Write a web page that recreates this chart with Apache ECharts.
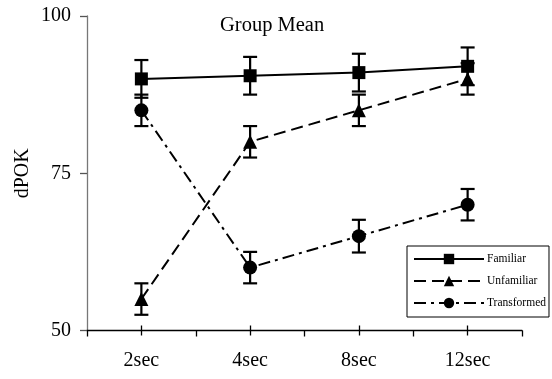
<!DOCTYPE html>
<html>
<head>
<meta charset="utf-8">
<script src="https://cdn.jsdelivr.net/npm/echarts@6/dist/echarts.min.js"></script>
<style>html,body{margin:0;padding:0;background:#fff;}#c{width:552px;height:379px;}</style>
</head>
<body>
<div id="c"></div>
<script>
var categories = ['2sec', '4sec', '8sec', '12sec'];
var seriesNames = ['Familiar', 'Unfamiliar', 'Transformed'];
var familiar = [90, 90.5, 91, 92];
var familiarErr = [3, 3, 3, 3];
var unfamiliar = [55, 80, 85, 90];
var unfamiliarErr = [2.5, 2.5, 2.5, 2.5];
var transformed = [85, 60, 65, 70];
var transformedErr = [2.5, 2.5, 2.6, 2.5];
var yTicks = [50, 75, 100];
var titleText = 'Group Mean';
var yName = 'dPOK';

var FONT = '"Liberation Serif", "Times New Roman", serif';

function errData(vals, errs) {
  return vals.map(function (v, i) { return [i, v - errs[i], v + errs[i]]; });
}
function errSeries(vals, errs) {
  return {
    type: 'custom',
    z: 1,
    silent: true,
    data: errData(vals, errs),
    encode: { x: 0, y: [1, 2] },
    renderItem: function (params, api) {
      var x = api.value(0);
      var lo = api.coord([x, api.value(1)]);
      var hi = api.coord([x, api.value(2)]);
      var w = 7;
      var st = { stroke: '#000', lineWidth: 2.2 };
      return {
        type: 'group',
        children: [
          { type: 'line', shape: { x1: lo[0], y1: lo[1], x2: hi[0], y2: hi[1] }, style: st },
          { type: 'line', shape: { x1: lo[0] - w, y1: lo[1], x2: lo[0] + w, y2: lo[1] }, style: st },
          { type: 'line', shape: { x1: hi[0] - w, y1: hi[1], x2: hi[0] + w, y2: hi[1] }, style: st }
        ]
      };
    }
  };
}

var chart = echarts.init(document.getElementById('c'), null, { renderer: 'canvas' });
var option = {
  backgroundColor: '#fff',
  animation: false,
  textStyle: { fontFamily: FONT, color: '#000' },
  title: {
    text: titleText,
    left: 220, top: 15, padding: 0,
    textStyle: { fontFamily: FONT, fontSize: 20.5, fontWeight: 'normal', color: '#000' }
  },
  legend: {
    data: seriesNames,
    orient: 'vertical',
    left: 407, top: 246,
    itemWidth: 70, itemHeight: 13, itemGap: 10,
    padding: [7, 3, 8, 6],
    borderColor: '#000', borderWidth: 1, backgroundColor: '#fff',
    textStyle: { fontFamily: FONT, fontSize: 11.5, color: '#000', padding: [0, 0, 0, -2] }
  },
  grid: { left: 87, right: 30, top: 16, bottom: 48.5, containLabel: false },
  xAxis: [{
    type: 'category',
    data: categories,
    boundaryGap: true,
    axisLine: { show: true, lineStyle: { color: '#000', width: 1.3 } },
    axisTick: { show: true, interval: 0, length: 6, lineStyle: { color: '#000', width: 1.3 } },
    axisLabel: { fontFamily: FONT, fontSize: 20, color: '#000', margin: 20, interval: 0 }
  }, {
    type: 'category',
    data: categories,
    position: 'bottom',
    offset: -5,
    boundaryGap: true,
    axisLine: { show: false },
    axisTick: { show: true, interval: 0, alignWithLabel: true, length: 10, lineStyle: { color: '#000', width: 1.3 } },
    axisLabel: { show: false }
  }],
  yAxis: {
    type: 'value',
    min: yTicks[0], max: yTicks[yTicks.length - 1], interval: 25,
    name: yName,
    nameLocation: 'middle',
    nameGap: 54,
    nameMoveOverlap: false,
    nameRotate: 90,
    nameTextStyle: { fontFamily: FONT, fontSize: 20, color: '#000' },
    axisLine: { show: true, lineStyle: { color: '#777', width: 1.3 } },
    axisTick: { show: true, length: 7, lineStyle: { color: '#555', width: 1.3 } },
    axisLabel: { fontFamily: FONT, fontSize: 20, color: '#000', margin: 16 },
    splitLine: { show: false }
  },
  series: [
    {
      name: seriesNames[0], type: 'line', z: 3, data: familiar,
      symbol: 'rect', symbolSize: 13,
      itemStyle: { color: '#000' },
      lineStyle: { color: '#000', width: 2, type: 'solid' }
    },
    {
      name: seriesNames[1], type: 'line', z: 3, data: unfamiliar,
      symbol: 'triangle', symbolSize: 14,
      itemStyle: { color: '#000' },
      lineStyle: { color: '#000', width: 2, type: [12, 6] }
    },
    {
      name: seriesNames[2], type: 'line', z: 3, data: transformed,
      symbol: 'circle', symbolSize: 14,
      itemStyle: { color: '#000' },
      lineStyle: { color: '#000', width: 2, type: [12, 5, 3, 5] }
    },
    errSeries(familiar, familiarErr),
    errSeries(unfamiliar, unfamiliarErr),
    errSeries(transformed, transformedErr)
  ]
};
chart.setOption(option);
</script>
</body>
</html>
